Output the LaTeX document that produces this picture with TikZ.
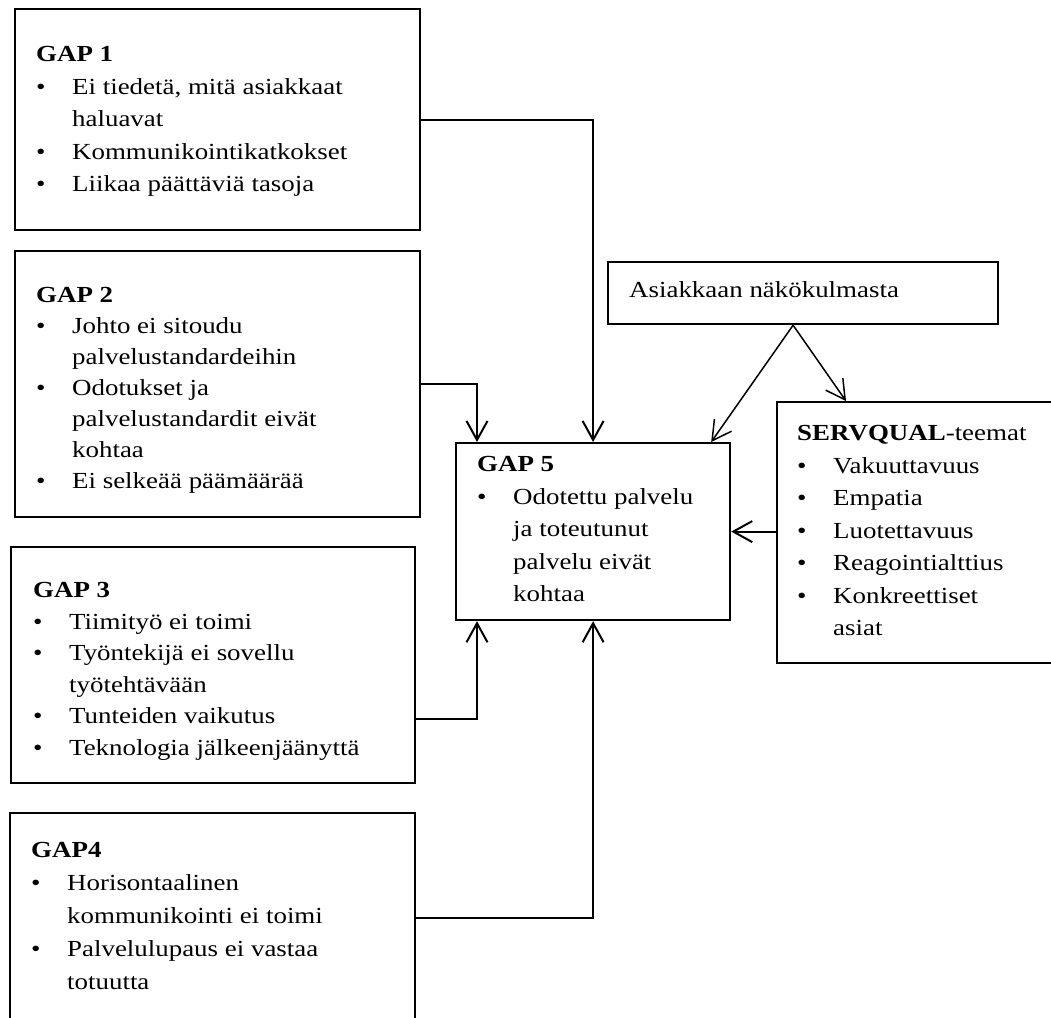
\documentclass[tikz,border=0pt]{standalone}
\usepackage{fontspec}
\setmainfont{Liberation Serif}[FakeStretch=1.17]
\usetikzlibrary{arrows.meta}

% one bullet item: bullet column followed by the item text
\newcommand{\gapitem}{\makebox[36pt][l]{\textbullet}}
\newcommand{\gapcont}{\hspace*{36pt}}

\begin{document}
\begin{tikzpicture}[x=1pt, y=-1pt,
  box/.style={draw, line width=2.2pt, inner sep=0pt, anchor=north west},
  txt/.style={anchor=north west, inner sep=0pt, align=left,
    font=\fontsize{23}{32.5}\selectfont},
  conn/.style={line width=2pt, -{Straight Barb[length=19pt,width=21pt,line width=2pt]}},
  thin/.style={line width=1.5pt, -{Straight Barb[length=19pt,width=21pt,line width=1.5pt]}}
]
\useasboundingbox (0,0) rectangle (1051,1017);
\clip (0,0) rectangle (1051,1017);

% boxes
\node[box, minimum width=405pt, minimum height=221pt] (g1) at (14,8) {};
\node[box, minimum width=405pt, minimum height=266pt] (g2) at (14,250) {};
\node[box, minimum width=404pt, minimum height=236pt] (g3) at (10,546) {};
\node[box, minimum width=405pt, minimum height=260pt] (g4) at (9,812) {};
\node[box, minimum width=274pt, minimum height=177pt] (g5) at (455,442) {};
\node[box, minimum width=390pt, minimum height=62pt] (asi) at (607,261) {};
\node[box, minimum width=300pt, minimum height=261pt] (serv) at (776,401) {};

% box texts
\node[txt] (t1) at (36,46.5) {\textbf{GAP 1}\\
  \gapitem Ei tiedetä, mitä asiakkaat\\
  \gapcont haluavat\\
  \gapitem Kommunikointikatkokset\\
  \gapitem Liikaa päättäviä tasoja};

\node[txt, font=\fontsize{23}{31}\selectfont] (t2) at (36,287.5) {\textbf{GAP 2}\\
  \gapitem Johto ei sitoudu\\
  \gapcont palvelustandardeihin\\
  \gapitem Odotukset ja\\
  \gapcont palvelustandardit eivät\\
  \gapcont kohtaa\\
  \gapitem Ei selkeää päämäärää};

\node[txt, font=\fontsize{23}{31.5}\selectfont] (t3) at (33,582.5) {\textbf{GAP 3}\\
  \gapitem Tiimityö ei toimi\\
  \gapitem Työntekijä ei sovellu\\
  \gapcont työtehtävään\\
  \gapitem Tunteiden vaikutus\\
  \gapitem Teknologia jälkeenjäänyttä};

\node[txt, font=\fontsize{23}{33}\selectfont] (t4) at (31,842.5) {\textbf{GAP4}\\
  \gapitem Horisontaalinen\\
  \gapcont kommunikointi ei toimi\\
  \gapitem Palvelulupaus ei vastaa\\
  \gapcont totuutta};

\node[txt] (t5) at (477,456.5) {\textbf{GAP 5}\\
  \gapitem Odotettu palvelu\\
  \gapcont ja toteutunut\\
  \gapcont palvelu eivät\\
  \gapcont kohtaa};

\node[txt] (ts) at (797,425.5) {\textbf{SERVQUAL}-teemat\\
  \gapitem Vakuuttavuus\\
  \gapitem Empatia\\
  \gapitem Luotettavuus\\
  \gapitem Reagointialttius\\
  \gapitem Konkreettiset\\
  \gapcont asiat};

\node[txt] (ta) at (629,281) {Asiakkaan näkökulmasta};

% connectors into GAP 5
\draw[conn] (g1.east) -| (g5.north);
\draw[conn] (g2.east) -| ([xshift=22pt]g5.north west);
\draw[conn] ([yshift=-54pt]g3.east) -| ([xshift=22pt]g5.south west);
\draw[conn] ([yshift=-106pt]g4.north east) -| (g5.south);
\draw[conn] (serv.west |- g5.east) -- (g5.east);

% customer viewpoint
\coordinate (asib) at ([xshift=-10pt]asi.south);
\draw[thin] (asib) -- ([xshift=-20pt]g5.north east);
\draw[thin] (asib) -- ([xshift=70pt]serv.north west);
\end{tikzpicture}
\end{document}
